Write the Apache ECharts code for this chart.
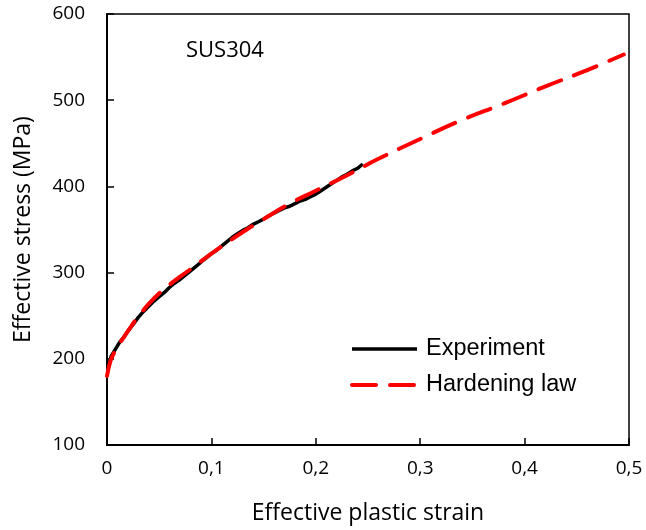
<!DOCTYPE html>
<html>
<head>
<meta charset="utf-8">
<script src="https://cdn.jsdelivr.net/npm/echarts@6/dist/echarts.min.js"></script>
<style>
html,body{margin:0;padding:0;background:#fff;}
#chart{width:646px;height:530px;}
</style>
</head>
<body>
<div id="chart"></div>
<script>
// values
var lawStrain = [0, 0.003, 0.006, 0.01, 0.015, 0.02, 0.03, 0.045, 0.06, 0.08, 0.1, 0.125, 0.15, 0.175, 0.2, 0.23, 0.26, 0.3, 0.34, 0.38, 0.42, 0.46, 0.495];
var lawStress = [180, 196, 205, 214, 223, 232, 249, 270, 286, 304, 322, 343, 362, 380, 395, 413, 432, 455, 477, 496, 516, 535, 553];

var expStrain = [0.001, 0.004, 0.008, 0.012, 0.016, 0.02, 0.025, 0.03, 0.035, 0.04, 0.045, 0.05, 0.055, 0.06, 0.065, 0.07, 0.075, 0.08, 0.085, 0.09, 0.095, 0.1, 0.105, 0.11, 0.115, 0.12, 0.125, 0.13, 0.135, 0.14, 0.145, 0.15, 0.155, 0.16, 0.165, 0.17, 0.175, 0.18, 0.185, 0.19, 0.195, 0.2, 0.205, 0.21, 0.215, 0.22, 0.225, 0.23, 0.235, 0.24, 0.245];
var expStress = [190, 203, 211, 219, 225, 232, 240, 248, 255, 261, 267, 272, 277, 283, 288, 292, 297, 302, 307, 312, 317, 322, 326, 331, 336, 341, 345, 349, 352, 356, 359, 362, 366, 369, 372, 375, 377, 380, 383, 385, 388, 391, 395, 399, 403, 407, 411, 414, 418, 421, 426];

var xTicks = [0, 0.1, 0.2, 0.3, 0.4, 0.5];
var yTicks = [100, 200, 300, 400, 500, 600];

var View = {};
View.pairs = function(xs, ys){
	var out = [];
	for (var i = 0; i < xs.length; i ++) {
		out.push([xs[i], ys[i]]);
	}
	return out;
};
View.font = '"Open Sans", Lato, sans-serif';

var myChart = echarts.init(document.getElementById('chart'));
var option = {
	backgroundColor: '#fff',
	animation: false,
	grid: {
		left: 107, right: 17, top: 14, bottom: 83,
		show: true, borderColor: '#000', borderWidth: 1.5
	},
	title: {
		text: 'SUS304', left: 181, top: 35,
		textStyle: {fontFamily: View.font, fontSize: 22, fontWeight: 'normal', color: '#000'}
	},
	legend: {
		orient: 'vertical', left: 350, top: 337, padding: 0,
		itemWidth: 65, itemHeight: 14, itemGap: 12,
		itemStyle: {opacity: 0},
		lineStyle: {width: 'inherit'},
		textStyle: {fontFamily: '"Liberation Sans", Arial, sans-serif', fontSize: 23.5, color: '#000', padding: [0, 0, 0, 4]},
		data: ['Experiment', 'Hardening law']
	},
	xAxis: {
		type: 'value', min: 0, max: 0.5, interval: 0.1,
		name: 'Effective plastic strain', nameLocation: 'middle', nameGap: 57,
		nameTextStyle: {fontFamily: View.font, fontSize: 23, color: '#000'},
		axisLine: {lineStyle: {color: '#000', width: 2}},
		axisTick: {inside: true, length: 7, lineStyle: {color: '#000', width: 1.5}},
		axisLabel: {
			fontFamily: View.font, fontSize: 19, color: '#000', margin: 14,
			formatter: function(v){ return String(Math.round(v * 10) / 10).replace('.', ','); }
		},
		splitLine: {show: false}
	},
	yAxis: {
		type: 'value', min: 100, max: 600, interval: 100,
		name: 'Effective stress (MPa)', nameLocation: 'middle', nameGap: 72,
		nameTextStyle: {fontFamily: View.font, fontSize: 23, color: '#000'},
		axisLine: {show: true, lineStyle: {color: '#000', width: 2}},
		axisTick: {show: true, inside: true, length: 7, lineStyle: {color: '#000', width: 1.5}},
		axisLabel: {fontFamily: View.font, fontSize: 19, color: '#000', margin: 22},
		splitLine: {show: false}
	},
	series: [
		{
			name: 'Experiment', type: 'line', symbol: 'none', z: 2,
			lineStyle: {color: '#000', width: 3.5},
			itemStyle: {color: '#000'},
			data: View.pairs(expStrain, expStress)
		},
		{
			name: 'Hardening law', type: 'line', symbol: 'none', smooth: true, z: 3,
			lineStyle: {color: '#ff0000', width: 4, type: [24, 14], cap: 'round'},
			itemStyle: {color: '#ff0000'},
			data: View.pairs(lawStrain, lawStress)
		}
	]
};
myChart.setOption(option);
</script>
</body>
</html>
